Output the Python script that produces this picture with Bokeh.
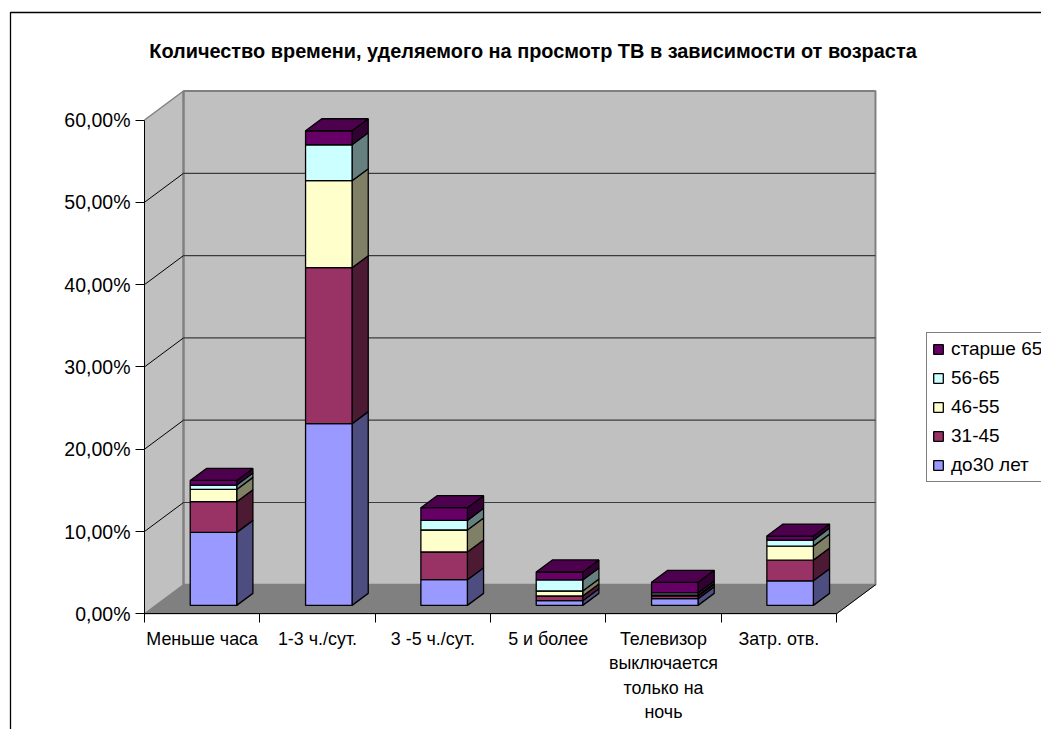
from bokeh.plotting import figure
from bokeh.models import (Range1d, LinearAxis, FixedTicker, ColumnDataSource,
                          Legend, LegendItem, Label)
from bokeh.embed import file_html
from bokeh.resources import INLINE

# ---- data -------------------------------------------------------------
categories = ["Меньше часа", "1-3 ч./сут.", "3 -5 ч./сут.", "5 и более",
              "Телевизор\nвыключается\nтолько на\nночь", "Затр. отв."]
series_names = ["до30 лет", "31-45", "46-55", "56-65", "старше 65"]
s_30 = [8.87, 22.08, 3.12, 0.57, 0.82, 2.99]
s_45 = [3.73, 18.95, 3.37, 0.57, 0.33, 2.51]
s_55 = [1.49, 10.57, 2.67, 0.61, 0.12, 1.70]
s_65 = [0.53, 4.37, 1.17, 1.34, 0.24, 0.73]
s_old = [0.56, 1.70, 1.54, 0.97, 1.29, 0.49]
y_ticks = [0, 10, 20, 30, 40, 50, 60]
y_labels = ["0,00%", "10,00%", "20,00%", "30,00%", "40,00%", "50,00%", "60,00%"]
title_text = "Количество времени, уделяемого на просмотр ТВ в зависимости от возраста"

all_series = [s_30, s_45, s_55, s_65, s_old]
front_colors = ["#9999FF", "#993366", "#FFFFCC", "#CCFFFF", "#660066"]
side_colors = ["#4D4D80", "#4D1A33", "#808066", "#668080", "#330033"]
top_color = "#4D004D"

# ---- geometry ----------------------------------------------------------
W, H = 1041, 729
X0, Y0 = 144.0, 613.3  # picture position of the axis origin
PX_X = 115.33   # px per category
PX_Y = 8.23     # px per 1 %
DX = 39 / PX_X  # oblique depth of the box in data units
DY = 29 / PX_Y
F_FRONT = 0.29  # depth fraction of bar front
F_DEPTH = 0.415 # depth fraction of bar thickness
BAR_W = 46.5 / PX_X
N = len(categories)
FONT = "Liberation Sans"

def fx(px):
    return (px - X0) / PX_X

def fy(py):
    return (Y0 - py) / PX_Y

p = figure(width=W, height=H, output_backend="svg", toolbar_location=None,
           x_axis_type=None, y_axis_type=None,
           x_range=Range1d(fx(0), fx(W)), y_range=Range1d(fy(H), fy(0)),
           min_border=0, min_border_left=0, min_border_right=0, min_border_top=0, min_border_bottom=0,
           outline_line_color=None, background_fill_color="white", border_fill_color="white")
p.grid.visible = False

# chart border (left and top edges are in view)
p.line([fx(10), fx(10), fx(W)], [fy(H), fy(12), fy(12)], line_color="#000000", line_width=1.3)

# title
p.add_layout(Label(x=fx(532.5), y=fy(50), text=title_text, text_align="center", text_baseline="middle",
                   text_font=FONT, text_font_size="19.9px", text_font_style="bold", text_color="#000000"))

# walls and floor
top = max(y_ticks)
p.patch([0, N, N + DX, DX], [0, 0, DY, DY], fill_color="#808080", line_color="#808080")
p.patch([0, DX, DX, 0], [0, DY, top + DY, top], fill_color="#C0C0C0", line_color=None)
p.patch([DX, N + DX, N + DX, DX], [DY, DY, top + DY, top + DY], fill_color="#C0C0C0",
        line_color="#808080", line_width=2)
p.line([DX, DX], [DY, top + DY], line_color="#808080", line_width=2)
grid = y_ticks[1:-1]
p.segment([DX] * len(grid), [v + DY for v in grid], [N + DX] * len(grid), [v + DY for v in grid],
          line_color="#3C3C3C", line_width=1.2)
p.segment([0] * len(grid), grid, [DX] * len(grid), [v + DY for v in grid],
          line_color="#000000", line_width=1)
p.line([0, DX], [top, top + DY], line_color="#808080", line_width=1.5)
p.line([0, DX], [0, DY], line_color="#808080", line_width=1.5)
p.line([N, N + DX], [0, DY], line_color="#000000", line_width=1)

# bars
centers = [i + 0.5 + F_FRONT * DX for i in range(N)]
left = [c - BAR_W / 2 for c in centers]
right = [c + BAR_W / 2 for c in centers]
base = [F_FRONT * DY] * N
side_dx, side_dy = F_DEPTH * DX, F_DEPTH * DY
bottoms = base
items = []
for vals, name, fc, sc in zip(all_series, series_names, front_colors, side_colors):
    tops = [b + v for b, v in zip(bottoms, vals)]
    side_x = [[r, r + side_dx, r + side_dx, r] for r in right]
    side_y = [[b, b + side_dy, t + side_dy, t] for b, t in zip(bottoms, tops)]
    p.patches(side_x, side_y, fill_color=sc, line_color="#000000", line_width=1.3)
    src = ColumnDataSource(dict(x=centers, bottom=bottoms, top=tops))
    r_ = p.vbar(x="x", bottom="bottom", top="top", width=BAR_W, source=src,
                fill_color=fc, line_color="#000000", line_width=1.3)
    items.append(LegendItem(label=name, renderers=[r_]))
    bottoms = tops
p.patches([[l, r, r + side_dx, l + side_dx] for l, r in zip(left, right)],
          [[t, t, t + side_dy, t + side_dy] for t in bottoms],
          fill_color=top_color, line_color="#000000", line_width=1.3)

# axes, pinned at the origin inside the frame
yax = LinearAxis(ticker=FixedTicker(ticks=y_ticks), fixed_location=0,
                 major_label_overrides={t: s for t, s in zip(y_ticks, y_labels)},
                 bounds=(0, top), major_tick_out=9, major_tick_in=0, minor_tick_out=0, minor_tick_in=0,
                 major_label_standoff=5, major_label_text_font=FONT,
                 major_label_text_font_size="19.5px", major_label_text_color="#000000",
                 axis_line_color="#000000", major_tick_line_color="#000000")
p.add_layout(yax, "left")

x_mid = [i + 0.5 for i in range(N)]
xax = LinearAxis(ticker=FixedTicker(ticks=x_mid, minor_ticks=list(range(N + 1))), fixed_location=0,
                 major_label_overrides={t: s for t, s in zip(x_mid, categories)},
                 bounds=(0, N), major_tick_out=0, major_tick_in=0, minor_tick_out=9, minor_tick_in=0,
                 major_label_standoff=6, major_label_text_font=FONT,
                 major_label_text_font_size="17.9px", major_label_text_color="#000000",
                 major_label_text_line_height=1.22,
                 axis_line_color="#000000", minor_tick_line_color="#000000")
p.add_layout(xax, "below")

# legend
legend = Legend(items=items[::-1], location=(926, 247), margin=0, padding=5, spacing=7,
                glyph_width=12, glyph_height=12, label_standoff=7, label_height=20,
                label_text_font=FONT, label_text_font_size="19px", label_text_color="#000000",
                border_line_color="#000000", border_line_width=1, background_fill_color="white",
                background_fill_alpha=1)
p.add_layout(legend)

open("out.html", "w").write(file_html(p, INLINE))
